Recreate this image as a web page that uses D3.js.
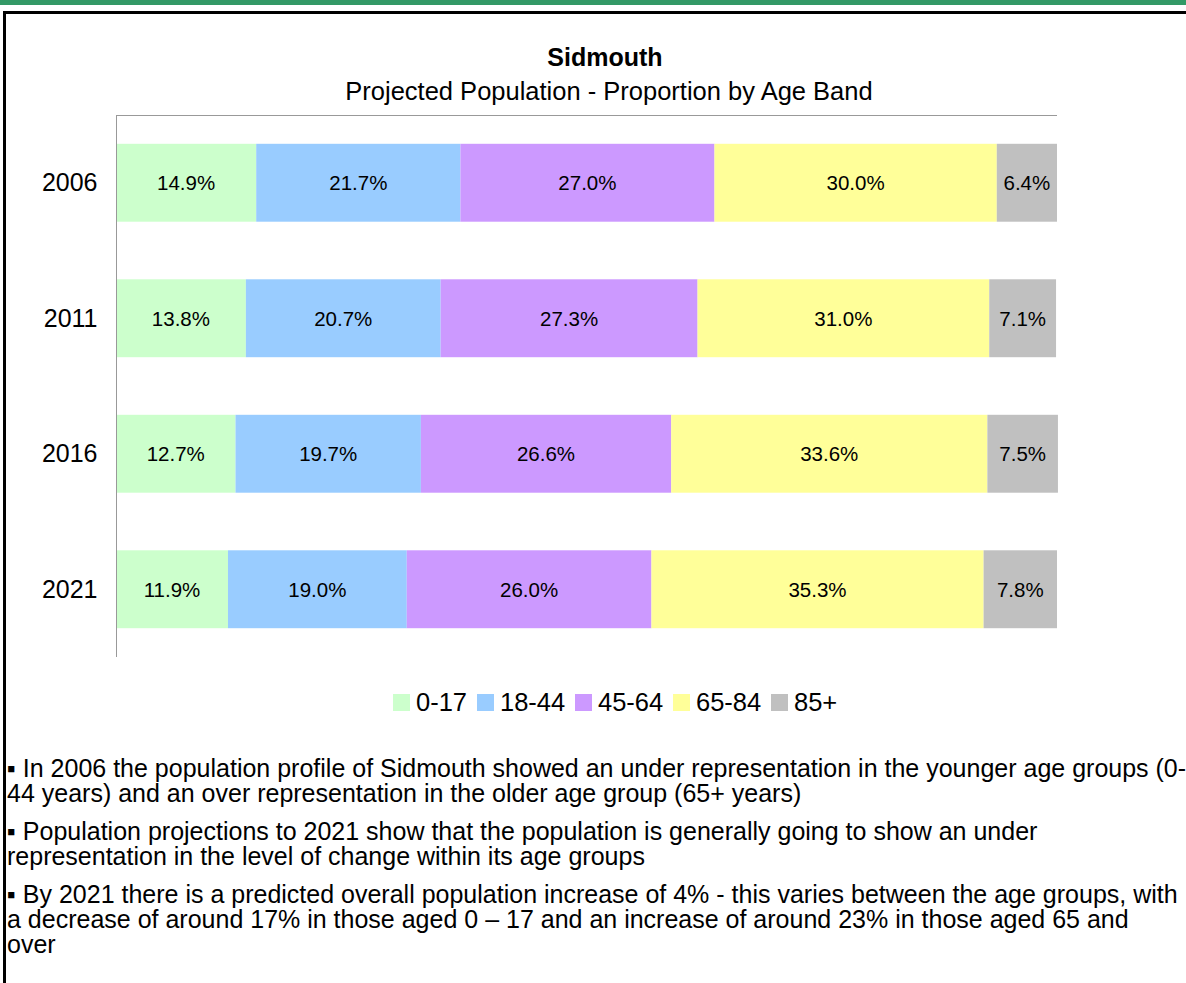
<!DOCTYPE html>
<html><head><meta charset="utf-8">
<script src="https://cdn.jsdelivr.net/npm/d3@7"></script>
<style>body{margin:0;background:#fff;overflow:hidden}svg{display:block;font-family:Arial,"Liberation Sans",sans-serif}</style>
</head><body>
<svg id="c" width="1186" height="983"></svg>
<script>
const years = ["2006","2011","2016","2021"];
const bands = ["0-17","18-44","45-64","65-84","85+"];
const colors = ["#CCFFCC","#99CCFF","#CC99FF","#FFFF99","#C0C0C0"];
const v0_17 = [14.9,13.8,12.7,11.9];
const v18_44 = [21.7,20.7,19.7,19.0];
const v45_64 = [27.0,27.3,26.6,26.0];
const v65_84 = [30.0,31.0,33.6,35.3];
const v85 = [6.4,7.1,7.5,7.8];
const notes = [
 ["\u25AA In 2006 the population profile of Sidmouth showed an under representation in the younger age groups (0-",
  "44 years) and an over representation in the older age group (65+ years)"],
 ["\u25AA Population projections to 2021 show that the population is generally going to show an under",
  "representation in the level of change within its age groups"],
 ["\u25AA By 2021 there is a predicted overall population increase of 4% - this varies between the age groups, with",
  "a decrease of around 17% in those aged 0 \u2013 17 and an increase of around 23% in those aged 65 and",
  "over"]
];

const series = [v0_17,v18_44,v45_64,v65_84,v85];
const rows = years.map((y,i)=>{const o={year:y};bands.forEach((b,j)=>o[b]=series[j][i]);return o;});
const stack = d3.stack().keys(bands)(rows);

const svg = d3.select("#c");
svg.append("rect").attr("x",0).attr("y",0).attr("width",1186).attr("height",5).attr("fill","#339966");
svg.append("path").attr("d","M4.5,983 V12.5 H1186").attr("fill","none").attr("stroke","#000").attr("stroke-width",3);

const L=116,R=1057,T=115,B=657;
const x = d3.scaleLinear().domain([0,100]).range([L,R]);
const y = d3.scaleBand().domain(years).range([T,B]).paddingInner(0.425).paddingOuter(0.2125);

svg.append("text").attr("x",605).attr("y",66).attr("text-anchor","middle").attr("font-weight","bold").attr("font-size",25).text("Sidmouth");
svg.append("text").attr("x",609).attr("y",100).attr("text-anchor","middle").attr("font-size",25.5).text("Projected Population - Proportion by Age Band");

svg.append("line").attr("x1",L).attr("x2",R).attr("y1",T+0.5).attr("y2",T+0.5).attr("stroke","#999").attr("stroke-width",1);

const g = svg.append("g");
stack.forEach((s,j)=>{
  const gg = g.append("g").attr("fill",colors[j]);
  gg.selectAll("rect").data(s).join("rect")
    .attr("x",d=>x(d[0])).attr("width",d=>x(d[1])-x(d[0]))
    .attr("y",d=>y(d.data.year)).attr("height",y.bandwidth());
  g.append("g").selectAll("text").data(s).join("text")
    .attr("x",d=>(x(d[0])+x(d[1]))/2).attr("y",d=>y(d.data.year)+y.bandwidth()/2+7.5)
    .attr("text-anchor","middle").attr("font-size",20.5).attr("fill","#000")
    .text(d=>(d[1]-d[0]).toFixed(1)+"%");
});

const yAxis = d3.axisLeft(y).tickSize(0).tickPadding(19);
const ya = svg.append("g").attr("transform",`translate(${L+0.5},0)`).call(yAxis);
ya.select(".domain").attr("stroke","#999").attr("d",`M0,${T}V${B}`);
ya.selectAll("text").attr("font-size",25).attr("font-family","Arial, 'Liberation Sans', sans-serif").attr("fill","#000").attr("dy",null).attr("y",8.5);

const legX=[393,477,575,673,771];
const leg = svg.append("g");
bands.forEach((b,j)=>{
  leg.append("rect").attr("x",legX[j]).attr("y",694).attr("width",17).attr("height",17).attr("fill",colors[j]);
  leg.append("text").attr("x",legX[j]+23).attr("y",711).attr("font-size",25.5).text(b);
});

let yy=777;
notes.forEach((p)=>{
  p.forEach((line)=>{
    svg.append("text").attr("x",7).attr("y",yy).attr("font-size",25).text(line);
    yy+=25;
  });
  yy+=13;
});
</script>
</body></html>
